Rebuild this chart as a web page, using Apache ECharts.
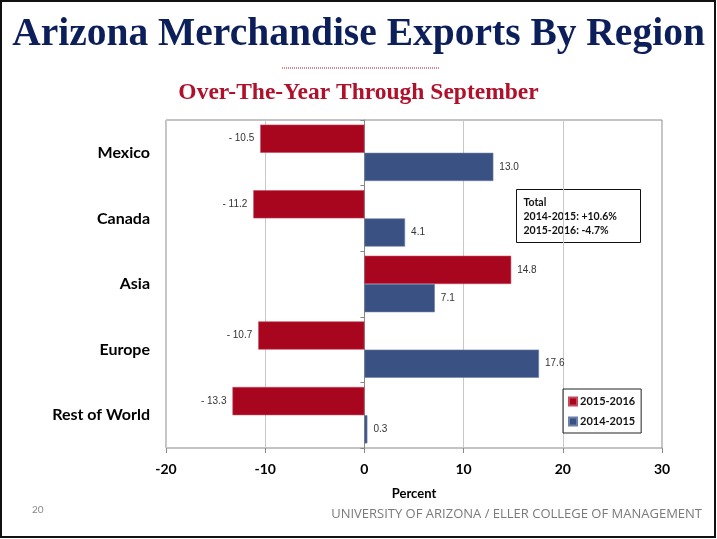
<!DOCTYPE html>
<html>
<head>
<meta charset="utf-8">
<title>Arizona Merchandise Exports By Region</title>
<script src="https://cdn.jsdelivr.net/npm/echarts@6/dist/echarts.min.js"></script>
<style>
  html, body { margin: 0; padding: 0; background: #fff; }
</style>
</head>
<body>
<div id="main" style="width:717px;height:539px;"></div>
<script type="text/javascript">
// data
var regions = ['Mexico', 'Canada', 'Asia', 'Europe', 'Rest of World'];
var yr1516 = [-10.5, -11.2, 14.8, -10.7, -13.3];
var yr1415 = [13.0, 4.1, 7.1, 17.6, 0.3];
var seriesNames = ['2015-2016', '2014-2015'];
var xTicks = [-20, -10, 0, 10, 20, 30];
var totalLines = ['Total', '2014-2015: +10.6%', '2015-2016: -4.7%'];

var RED = '#a8051f';
var BLUE = '#3a5283';

function fmt(v) {
    return v < 0 ? '- ' + Math.abs(v).toFixed(1) : v.toFixed(1);
}
function toItems(arr) {
    return arr.map(function (v) {
        return { value: v, label: { position: v < 0 ? 'left' : 'right' } };
    });
}

var myChart = echarts.init(document.getElementById('main'));

var option = {
    backgroundColor: '#fff',
    animation: false,
    title: [
        {
            text: 'Arizona Merchandise Exports By Region',
            left: 'center', top: 10,
            textStyle: { fontFamily: 'Liberation Serif', fontWeight: 'bold', fontSize: 39.5, color: '#0c1f5b' }
        },
        {
            text: 'Over-The-Year Through September',
            left: 'center', top: 76,
            textStyle: { fontFamily: 'Liberation Serif', fontWeight: 'bold', fontSize: 23.5, color: '#b0102a' }
        }
    ],
    legend: {
        orient: 'vertical',
        left: 563, top: 389,
        padding: [7, 6, 6, 5],
        itemWidth: 8, itemHeight: 8, itemGap: 9,
        borderColor: '#222', borderWidth: 1,
        icon: 'rect',
        data: seriesNames,
        textStyle: { fontFamily: 'Lato', fontWeight: 'bold', fontSize: 11, color: '#111', padding: [0, 0, 0, -2] }
    },
    grid: {
        left: 166, right: 55, top: 120, bottom: 91,
        show: true, borderColor: '#888', borderWidth: 1
    },
    xAxis: {
        type: 'value',
        min: -20, max: 30, interval: 10,
        name: 'Percent', nameLocation: 'middle', nameGap: 39,
        nameTextStyle: { fontFamily: 'Lato', fontWeight: 'bold', fontSize: 13, color: '#000' },
        axisLine: { show: false },
        axisTick: { show: true, length: 5, lineStyle: { color: '#888' } },
        axisLabel: {
            margin: 14,
            fontFamily: 'Lato', fontWeight: 'bold', fontSize: 14, color: '#000',
            formatter: function (v) { return xTicks.indexOf(v) >= 0 ? String(v) : ''; }
        },
        splitLine: { lineStyle: { color: '#c8c8c8' } }
    },
    yAxis: [
        {
            type: 'category', inverse: true, data: regions,
            axisLine: { show: false }, axisTick: { show: false },
            axisLabel: { margin: 16, fontFamily: 'Lato', fontWeight: 'bold', fontSize: 16, color: '#000' }
        },
        {
            // zero line with category ticks
            type: 'category', inverse: true, data: regions, position: 'left', offset: -198.4,
            axisLine: { onZero: false, lineStyle: { color: '#888' } },
            axisTick: { show: true, length: 4, lineStyle: { color: '#888' } },
            axisLabel: { show: false }
        }
    ],
    series: [
        {
            name: seriesNames[0], type: 'bar', data: toItems(yr1516),
            barGap: '0%', barCategoryGap: '14%',
            itemStyle: { color: RED, borderColor: '#c44a5c', borderWidth: 0.6 },
            label: { show: true, distance: 6, formatter: function (p) { return fmt(p.value); },
                     fontFamily: 'Liberation Sans', fontSize: 10, color: '#333' }
        },
        {
            name: seriesNames[1], type: 'bar', data: toItems(yr1415),
            itemStyle: { color: BLUE, borderColor: '#6d80a8', borderWidth: 0.6 },
            label: { show: true, distance: 6, formatter: function (p) { return fmt(p.value); },
                     fontFamily: 'Liberation Sans', fontSize: 10, color: '#333' }
        }
    ],
    graphic: [
        { type: 'rect', shape: { x: 1, y: 1, width: 714, height: 536 }, style: { fill: null, stroke: '#111', lineWidth: 2 }, silent: true },
        { type: 'line', shape: { x1: 282, y1: 68, x2: 440, y2: 68 }, style: { stroke: '#b0102a', lineWidth: 1, lineDash: [1, 1] } },
        {
            type: 'group', left: 516, top: 189,
            children: [
                { type: 'rect', shape: { x: 0, y: 0, width: 124, height: 53 }, style: { fill: '#fff', stroke: '#111', lineWidth: 1 } },
                { type: 'text', x: 7, y: 6, style: { text: totalLines.join('\n'), lineHeight: 14,
                  font: 'bold 10.5px Lato', fill: '#111' } }
            ]
        },
        { type: 'text', left: 32, top: 505, style: { text: '20', font: '10px Lato', fill: '#888' } },
        { type: 'text', right: 15, top: 508, style: { text: 'UNIVERSITY OF ARIZONA / ELLER COLLEGE OF MANAGEMENT',
          font: '13px "Open Sans"', fill: '#7a7a7a' } }
    ]
};
myChart.setOption(option);
</script>
</body>
</html>
